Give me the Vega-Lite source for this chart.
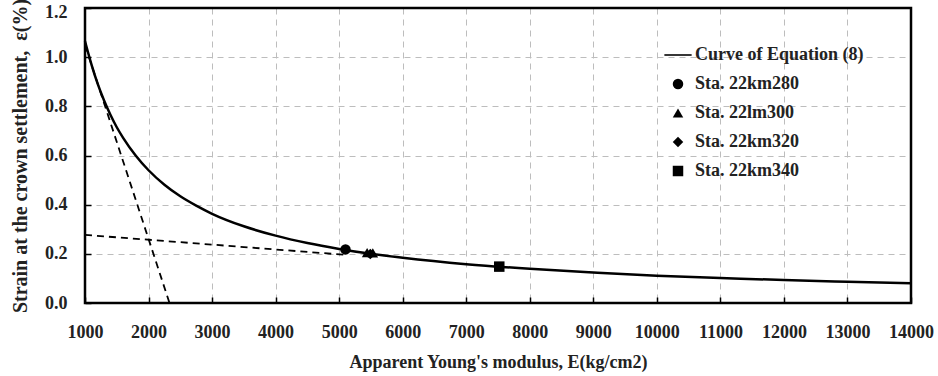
{
  "$schema": "https://vega.github.io/schema/vega-lite/v6.json",
  "width": 826,
  "height": 295,
  "autosize": {"type": "none"},
  "padding": {"left": 85, "top": 8, "right": 27, "bottom": 73},
  "background": "white",
  "config": {
    "view": {"stroke": null},
    "font": "Liberation Serif",
    "legend": {
      "labelFont": "Liberation Serif",
      "labelFontWeight": "bold",
      "labelFontSize": 18,
      "labelColor": "#222",
      "labelLimit": 400
    }
  },
  "datasets": {
    "frame": [
      {"xa": 1000, "xb": 14000, "ya": 0, "yb": 1.2}
    ],
    "curve": [
      {"E": 1000, "eps": 1.065},
      {"E": 1100, "eps": 0.972},
      {"E": 1200, "eps": 0.891},
      {"E": 1300, "eps": 0.824},
      {"E": 1400, "eps": 0.766},
      {"E": 1500, "eps": 0.715},
      {"E": 1600, "eps": 0.672},
      {"E": 1800, "eps": 0.599},
      {"E": 2000, "eps": 0.540},
      {"E": 2250, "eps": 0.481},
      {"E": 2500, "eps": 0.434},
      {"E": 2750, "eps": 0.396},
      {"E": 3000, "eps": 0.363},
      {"E": 3500, "eps": 0.312},
      {"E": 4000, "eps": 0.274},
      {"E": 4500, "eps": 0.244},
      {"E": 5000, "eps": 0.220},
      {"E": 5500, "eps": 0.200},
      {"E": 6000, "eps": 0.184},
      {"E": 7000, "eps": 0.158},
      {"E": 8000, "eps": 0.139},
      {"E": 9000, "eps": 0.124},
      {"E": 10000, "eps": 0.111},
      {"E": 11000, "eps": 0.102},
      {"E": 12000, "eps": 0.0933},
      {"E": 13000, "eps": 0.0863},
      {"E": 14000, "eps": 0.0802}
    ],
    "guides": [
      {"line": "steep", "E": 1000, "eps": 1.05},
      {"line": "steep", "E": 2330, "eps": 0.0},
      {"line": "flat", "E": 1000, "eps": 0.277},
      {"line": "flat", "E": 5100, "eps": 0.196}
    ],
    "stations": [
      {"station": "Sta. 22km280", "E": 5100, "eps": 0.218},
      {"station": "Sta. 22lm300", "E": 5440, "eps": 0.205},
      {"station": "Sta. 22lm300", "E": 5530, "eps": 0.204},
      {"station": "Sta. 22km320", "E": 5490, "eps": 0.199},
      {"station": "Sta. 22km340", "E": 7520, "eps": 0.148}
    ]
  },
  "encoding": {
    "x": {
      "field": "E",
      "type": "quantitative",
      "scale": {"domain": [1000, 14000], "nice": false, "zero": false},
      "axis": {
        "title": "Apparent Young's modulus, E(kg/cm2)",
        "values": [1000, 2000, 3000, 4000, 5000, 6000, 7000, 8000, 9000, 10000, 11000, 12000, 13000, 14000],
        "format": "d",
        "grid": true,
        "gridColor": "#bdbdbd",
        "gridDash": [6, 5],
        "gridWidth": 1,
        "domain": false,
        "ticks": true,
        "tickColor": "black",
        "tickWidth": 1.5,
        "tickSize": -6,
        "labelFont": "Liberation Serif",
        "labelFontWeight": "bold",
        "labelFontSize": 18,
        "labelColor": "#222",
        "labelOverlap": false,
        "labelFlush": false,
        "labelBound": false,
        "labelPadding": 26,
        "titleFont": "Liberation Serif",
        "titleFontWeight": "bold",
        "titleFontSize": 18,
        "titleColor": "#222",
        "titlePadding": 12
      }
    },
    "y": {
      "field": "eps",
      "type": "quantitative",
      "scale": {"domain": [0, 1.2], "nice": false, "zero": true},
      "axis": {
        "title": "Strain at the crown settlement, \u00a0ε(%)",
        "values": [0, 0.2, 0.4, 0.6, 0.8, 1.0, 1.2],
        "format": ".1f",
        "grid": true,
        "gridColor": "#bdbdbd",
        "gridDash": [6, 5],
        "gridWidth": 1,
        "domain": false,
        "ticks": true,
        "tickColor": "black",
        "tickWidth": 1.5,
        "tickSize": -6,
        "labelFont": "Liberation Serif",
        "labelFontWeight": "bold",
        "labelFontSize": 18,
        "labelColor": "#222",
        "labelOverlap": false,
        "labelFlush": false,
        "labelBound": false,
        "labelPadding": 24,
        "labelOffset": {"condition": {"test": "datum.value >= 1.19", "value": 4}, "value": 0},
        "titleFont": "Liberation Serif",
        "titleFontWeight": "bold",
        "titleFontSize": 20,
        "titleColor": "#222",
        "titlePadding": 14
      }
    }
  },
  "layer": [
    {
      "data": {"name": "curve"},
      "mark": {"type": "line", "color": "black", "strokeWidth": 2.5, "interpolate": "monotone"}
    },
    {
      "data": {"name": "guides"},
      "mark": {"type": "line", "color": "black", "strokeWidth": 1.8, "strokeDash": [7, 5]},
      "encoding": {"detail": {"field": "line"}}
    },
    {
      "data": {"name": "stations"},
      "mark": {"type": "point", "filled": true, "color": "black", "opacity": 1, "size": 110},
      "encoding": {
        "shape": {
          "field": "station",
          "type": "nominal",
          "scale": {
            "domain": ["Curve of Equation (8)", "Sta. 22km280", "Sta. 22lm300", "Sta. 22km320", "Sta. 22km340"],
            "range": ["M-2.6,-0.15L2.6,-0.15L2.6,0.15L-2.6,0.15Z", "circle", "triangle-up", "diamond", "square"]
          },
          "legend": {
            "title": null,
            "orient": "none",
            "legendX": 584,
            "legendY": 38,
            "padding": 0,
            "symbolSize": 110,
            "symbolFillColor": "black",
            "symbolStrokeColor": "black",
            "symbolStrokeWidth": 0,
            "symbolOpacity": 1,
            "labelOffset": 8,
            "rowPadding": 11,
            "labelLimit": 400
          }
        }
      }
    },
    {
      "data": {"name": "frame"},
      "mark": {"type": "rect", "fill": null, "fillOpacity": 0, "stroke": "black", "strokeWidth": 2.5},
      "encoding": {
        "x": {"field": "xa", "type": "quantitative"},
        "x2": {"field": "xb"},
        "y": {"field": "ya", "type": "quantitative"},
        "y2": {"field": "yb"}
      }
    }
  ]
}
